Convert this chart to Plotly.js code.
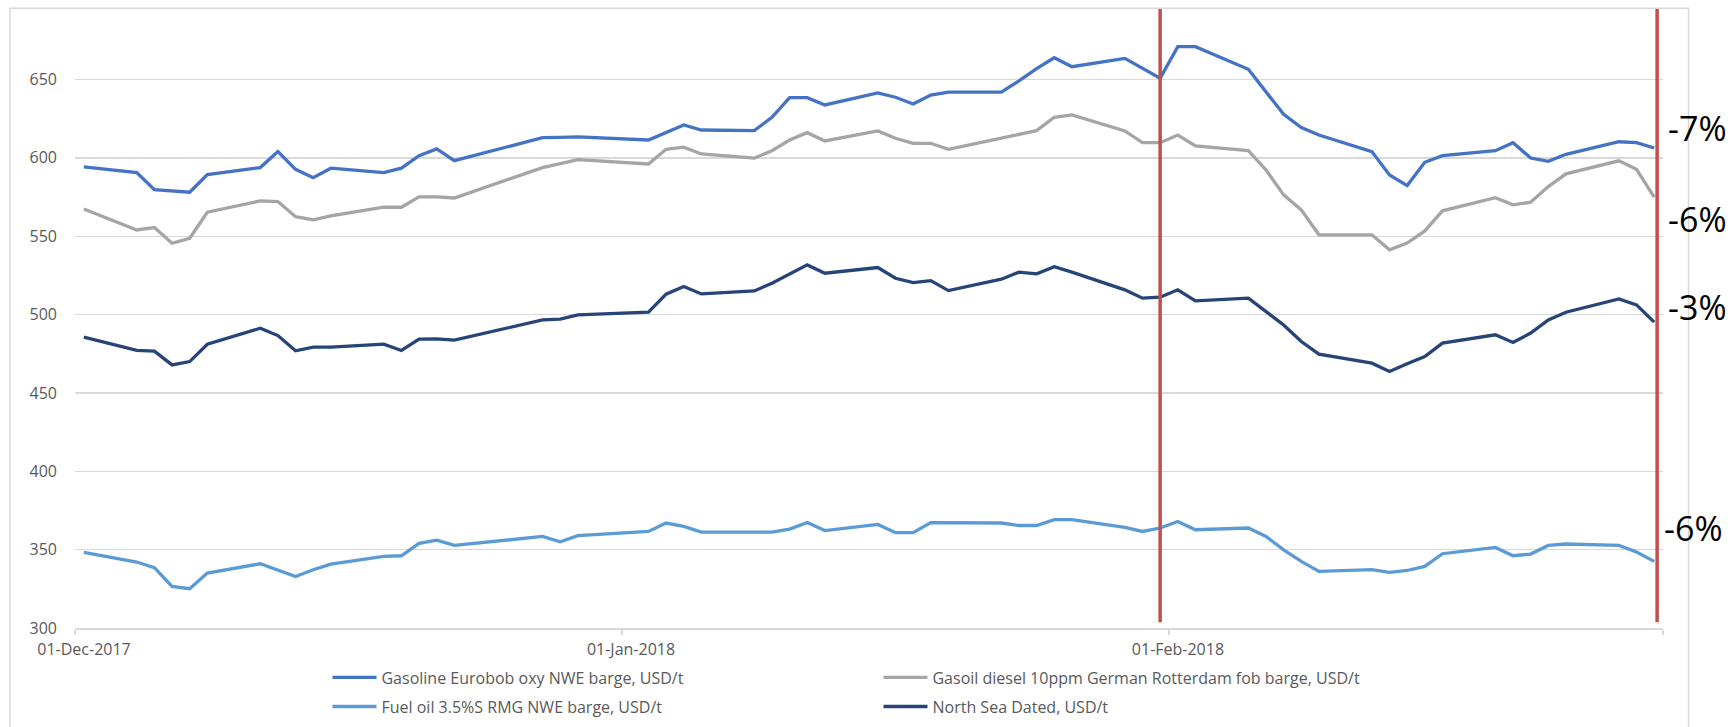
<!DOCTYPE html>
<html><head><meta charset="utf-8">
<script src="https://cdn.plot.ly/plotly-3.0.1.min.js"></script>
<style>html,body{margin:0;padding:0;background:#fff;} #chart{width:1733px;height:727px;}</style>
</head><body><div id="chart"></div>
<script>
const dates = [
 '2017-12-01','2017-12-04','2017-12-05','2017-12-06','2017-12-07','2017-12-08','2017-12-11','2017-12-12','2017-12-13','2017-12-14','2017-12-15','2017-12-18','2017-12-19','2017-12-20','2017-12-21','2017-12-22','2017-12-27','2017-12-28','2017-12-29',
 '2018-01-02','2018-01-03','2018-01-04','2018-01-05','2018-01-08','2018-01-09','2018-01-10','2018-01-11','2018-01-12','2018-01-15','2018-01-16','2018-01-17','2018-01-18','2018-01-19','2018-01-22','2018-01-23','2018-01-24','2018-01-25','2018-01-26','2018-01-29','2018-01-30','2018-01-31',
 '2018-02-01','2018-02-02','2018-02-05','2018-02-06','2018-02-07','2018-02-08','2018-02-09','2018-02-12','2018-02-13','2018-02-14','2018-02-15','2018-02-16','2018-02-19','2018-02-20','2018-02-21','2018-02-22','2018-02-23','2018-02-26','2018-02-27','2018-02-28'
];
const gasoline = [
 594.2,590.6,579.7,579.1,578.1,589.3,593.8,604.0,592.7,587.4,593.4,590.6,593.4,601.4,605.7,598.2,612.9,613.1,613.4,
 611.4,616.3,621.0,617.8,617.4,625.9,638.4,638.4,633.8,641.4,638.7,634.4,640.1,641.9,641.9,649.1,656.9,663.9,658.2,663.5,657.1,650.8,
 671.0,671.0,656.5,642.2,627.8,619.3,614.6,604.0,589.1,582.3,597.2,601.4,604.6,609.7,599.9,597.8,602.3,610.3,609.7,606.3
];
const gasoil = [
 567.4,554.0,555.5,545.5,548.7,565.3,572.5,572.1,562.5,560.4,563.0,568.5,568.5,575.1,575.1,574.4,593.8,596.6,598.9,
 596.1,605.5,606.8,602.5,599.8,604.6,611.4,616.1,610.8,617.2,612.5,609.3,609.3,605.5,612.6,615.1,617.4,625.9,627.4,617.2,609.7,609.7,
 614.6,607.6,604.6,592.3,576.4,566.8,550.9,550.9,541.3,545.6,553.4,566.2,574.6,570.0,571.7,581.7,589.8,598.1,592.7,574.9
];
const fuelOil = [
 348.2,342.1,338.5,326.5,325.1,335.1,341.0,337.2,332.9,337.2,340.8,345.7,346.1,354.0,356.1,352.7,358.4,355.0,358.9,
 361.6,367.0,364.8,361.2,361.2,361.2,363.1,367.3,362.2,366.1,360.8,360.8,367.3,367.3,367.0,365.4,365.4,369.1,369.1,364.2,361.6,363.8,
 368.0,362.7,363.8,358.4,349.9,342.5,336.1,337.2,335.5,336.7,339.3,347.4,351.4,346.1,347.2,352.7,353.6,352.7,348.5,342.5
];
const northSea = [
 485.6,477.1,476.7,467.9,470.0,481.1,491.3,486.6,476.9,479.2,479.2,481.1,477.1,484.3,484.5,483.7,496.6,497.1,499.8,
 501.5,513.0,517.9,513.2,515.1,520.0,526.0,531.7,526.4,530.0,523.2,520.4,521.7,515.3,522.6,527.1,526.0,530.6,527.1,515.8,510.5,511.1,
 515.8,508.8,510.5,501.9,493.4,482.8,474.8,469.0,463.7,468.6,473.2,481.8,487.1,482.2,488.2,496.6,501.5,510.0,506.2,495.2
];
const seriesNames = [
 'Gasoline Eurobob oxy NWE barge, USD/t',
 'Gasoil diesel 10ppm German Rotterdam fob barge, USD/t',
 'Fuel oil 3.5%S RMG NWE barge, USD/t',
 'North Sea Dated, USD/t'
];
const tickDates = ['2017-11-30 12:00','2017-12-31 12:00','2018-01-31 12:00','2018-02-28 12:00'];
const tickLabels = ['01-Dec-2017','01-Jan-2018','01-Feb-2018',''];
const markerDates = ['2018-01-31','2018-02-28 04:00'];
const changeLabels = ['-7%','-6%','-3%','-6%'];
const changeLabelY = [618.8, 561.1, 504.6, 363.8];

const colors = ['#4472C4','#A5A5A5','#5B9BD5','#264478'];
const values = [gasoline, gasoil, fuelOil, northSea];
const legends = ['legend','legend','legend2','legend2'];

const traces = values.map((v,i)=>({
  x: dates, y: v, type:'scatter', mode:'lines', name: seriesNames[i],
  line:{color:colors[i], width:3.3}, legend: legends[i], hoverinfo:'skip'
}));

const legendBase = {orientation:'h', xanchor:'left', yanchor:'middle', entrywidth:492, entrywidthmode:'pixels',
  itemwidth:44, font:{family:'Open Sans, sans-serif', size:16, color:'#595959'}, bgcolor:'rgba(0,0,0,0)', borderwidth:0};

const layout = {
  width:1733, height:727,
  margin:{l:75, r:69.5, t:9, b:99, pad:0, autoexpand:false},
  paper_bgcolor:'#ffffff', plot_bgcolor:'#ffffff',
  font:{family:'Open Sans, sans-serif', size:16, color:'#595959'},
  showlegend:true,
  xaxis:{type:'date', range:['2017-11-30 12:00','2018-02-28 12:00'], tickmode:'array', tickvals:tickDates, ticktext:tickLabels,
    ticks:'outside', ticklen:5, tickcolor:'#D9D9D9', tickwidth:1.3, showline:true, linecolor:'#D9D9D9', linewidth:1.5,
    showgrid:false, zeroline:false, ticklabelshift:9, ticklabelstandoff:1, tickfont:{size:16, color:'#595959'}, fixedrange:true, automargin:false},
  yaxis:{range:[300,695], tick0:300, dtick:50, showgrid:true, gridcolor:'#D9D9D9', gridwidth:1.3, zeroline:false,
    showline:false, ticks:'', ticklabelstandoff:17, tickfont:{size:16, color:'#595959'}, fixedrange:true, automargin:false},
  legend: Object.assign({}, legendBase, {x:0.159, y:-0.080}),
  legend2: Object.assign({}, legendBase, {x:0.159, y:-0.127}),
  shapes:[
    {type:'rect', xref:'paper', yref:'paper', x0:-0.0409, x1:1.01605, y0:-0.2, y1:1.0011,
     line:{color:'#D9D9D9', width:1.5}, fillcolor:'rgba(0,0,0,0)', layer:'below'},
    ...markerDates.map(d=>({type:'line', xref:'x', yref:'paper', x0:d, x1:d, y0:0.0092, y1:1,
     line:{color:'#C0504D', width:3.5}, layer:'above'}))
  ],
  annotations: changeLabels.map((t,i)=>({text:t, xref:'paper', yref:'y', x: i===3 ? 1.0191 : 1.0217, y: changeLabelY[i],
     xanchor:'center', yanchor:'middle', showarrow:false, font:{family:'Open Sans, sans-serif', size:34, color:'#000000'}}))
};

Plotly.newPlot('chart', traces, layout, {displayModeBar:false, staticPlot:true});
</script>
</body></html>
